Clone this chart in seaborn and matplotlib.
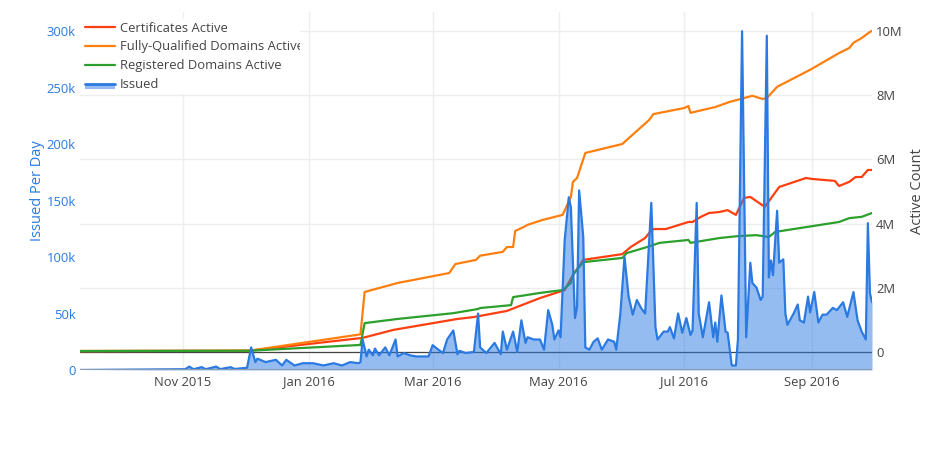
import pandas as pd
import numpy as np
import matplotlib
matplotlib.use("Agg")
import matplotlib.pyplot as plt
import matplotlib.dates as mdates
from matplotlib.lines import Line2D
from matplotlib.patches import Rectangle
from matplotlib.legend_handler import HandlerBase
from matplotlib.transforms import Bbox
import seaborn as sns

# === Data ===
issued_dates = [
    "2015-09-12", "2015-10-06", "2015-11-02", "2015-11-04", "2015-11-06", "2015-11-10", "2015-11-12",
    "2015-11-17", "2015-11-19", "2015-11-24", "2015-11-26", "2015-12-02", "2015-12-04", "2015-12-06",
    "2015-12-07", "2015-12-11", "2015-12-16", "2015-12-19", "2015-12-21", "2015-12-25", "2015-12-29",
    "2016-01-03", "2016-01-08", "2016-01-13", "2016-01-17", "2016-01-21", "2016-01-25", "2016-01-26",
    "2016-01-27", "2016-01-29", "2016-01-30", "2016-02-01", "2016-02-02", "2016-02-04", "2016-02-07",
    "2016-02-09", "2016-02-12", "2016-02-13", "2016-02-16", "2016-02-19", "2016-02-22", "2016-02-25",
    "2016-02-28", "2016-03-01", "2016-03-03", "2016-03-06", "2016-03-08", "2016-03-11", "2016-03-13",
    "2016-03-14", "2016-03-17", "2016-03-21", "2016-03-23", "2016-03-24", "2016-03-27", "2016-03-31",
    "2016-04-03", "2016-04-04", "2016-04-06", "2016-04-09", "2016-04-11", "2016-04-13", "2016-04-15",
    "2016-04-16", "2016-04-19", "2016-04-22", "2016-04-24", "2016-04-26", "2016-04-28", "2016-04-29",
    "2016-05-01", "2016-05-02", "2016-05-04", "2016-05-06", "2016-05-07", "2016-05-09", "2016-05-10",
    "2016-05-11", "2016-05-13", "2016-05-14", "2016-05-16", "2016-05-18", "2016-05-20", "2016-05-22",
    "2016-05-25", "2016-05-28", "2016-05-29", "2016-05-31", "2016-06-02", "2016-06-04", "2016-06-06",
    "2016-06-08", "2016-06-10", "2016-06-12", "2016-06-15", "2016-06-17", "2016-06-18", "2016-06-21",
    "2016-06-23", "2016-06-24", "2016-06-26", "2016-06-28", "2016-06-30", "2016-07-02", "2016-07-04",
    "2016-07-05", "2016-07-07", "2016-07-08", "2016-07-10", "2016-07-13", "2016-07-15", "2016-07-16",
    "2016-07-17", "2016-07-19", "2016-07-21", "2016-07-22", "2016-07-24", "2016-07-26", "2016-07-27",
    "2016-07-29", "2016-07-31", "2016-08-02", "2016-08-03", "2016-08-05", "2016-08-07", "2016-08-08",
    "2016-08-10", "2016-08-11", "2016-08-12", "2016-08-13", "2016-08-15", "2016-08-16", "2016-08-18",
    "2016-08-19", "2016-08-20", "2016-08-23", "2016-08-25", "2016-08-26", "2016-08-28", "2016-08-30",
    "2016-08-31", "2016-09-02", "2016-09-04", "2016-09-06", "2016-09-08", "2016-09-11", "2016-09-13",
    "2016-09-16", "2016-09-18", "2016-09-21", "2016-09-23", "2016-09-25", "2016-09-27", "2016-09-28",
    "2016-09-29", "2016-09-30",
]
issued_values = [
    0, 300, 700, 3000, 700, 2500, 700,
    3000, 800, 2500, 900, 2000, 20000, 7000,
    10000, 7000, 9000, 4000, 9000, 4000, 6000,
    6000, 4000, 6000, 4000, 7000, 6000, 7000,
    27000, 12000, 18000, 13000, 19000, 13000, 20000,
    13000, 27000, 12000, 15000, 13000, 12000, 12000,
    12000, 22000, 19000, 15000, 27000, 35000, 14000,
    17000, 15000, 16000, 50000, 20000, 15000, 24000,
    14000, 34000, 18000, 34000, 16000, 44000, 24000,
    29000, 27000, 27000, 18000, 53000, 40000, 27000,
    35000, 29000, 115000, 153000, 144000, 46000, 56000,
    159000, 118000, 20000, 18000, 25000, 28000, 18000,
    27000, 25000, 18000, 50000, 100000, 65000, 49000,
    62000, 55000, 50000, 148000, 38000, 27000, 34000,
    34000, 38000, 28000, 50000, 33000, 46000, 31000,
    35000, 148000, 50000, 29000, 60000, 29000, 42000,
    25000, 66000, 34000, 33000, 4000, 4000, 27000,
    300000, 29000, 95000, 77000, 73000, 62000, 65000,
    296000, 82000, 97000, 84000, 141000, 95000, 98000,
    50000, 40000, 50000, 58000, 44000, 42000, 65000,
    51000, 69000, 42000, 49000, 49000, 55000, 53000,
    60000, 47000, 69000, 44000, 34000, 27000, 130000,
    68000, 60000,
]

cert_dates = [
    "2015-09-12", "2015-12-03", "2016-01-27", "2016-02-11", "2016-03-13", "2016-03-21", "2016-04-06",
    "2016-04-22", "2016-05-04", "2016-05-08", "2016-05-13", "2016-06-01", "2016-06-05", "2016-06-12",
    "2016-06-14", "2016-06-16", "2016-06-22", "2016-07-03", "2016-07-05", "2016-07-09", "2016-07-13",
    "2016-07-18", "2016-07-22", "2016-07-26", "2016-07-30", "2016-08-02", "2016-08-07", "2016-08-09",
    "2016-08-16", "2016-08-29", "2016-09-01", "2016-09-12", "2016-09-14", "2016-09-19", "2016-09-22",
    "2016-09-25", "2016-09-28", "2016-09-30",
]
cert_values = [
    0.03, 0.04, 0.44, 0.69, 1.03, 1.09, 1.28,
    1.68, 1.93, 2.40, 2.87, 3.05, 3.27, 3.55,
    3.71, 3.83, 3.83, 4.05, 4.05, 4.21, 4.33,
    4.36, 4.42, 4.27, 4.80, 4.83, 4.61, 4.52,
    5.14, 5.42, 5.39, 5.33, 5.17, 5.30, 5.45,
    5.45, 5.67, 5.67,
]

fqdn_dates = [
    "2015-09-12", "2015-12-03", "2016-01-26", "2016-01-28", "2016-02-13", "2016-03-09", "2016-03-12",
    "2016-03-22", "2016-03-24", "2016-04-04", "2016-04-06", "2016-04-09", "2016-04-10", "2016-04-14",
    "2016-04-16", "2016-04-23", "2016-05-03", "2016-05-07", "2016-05-08", "2016-05-10", "2016-05-14",
    "2016-06-01", "2016-06-03", "2016-06-14", "2016-06-16", "2016-07-01", "2016-07-03", "2016-07-04",
    "2016-07-16", "2016-07-23", "2016-08-03", "2016-08-08", "2016-08-10", "2016-08-15", "2016-08-31",
    "2016-09-14", "2016-09-19", "2016-09-21", "2016-09-25", "2016-09-29", "2016-09-30",
]
fqdn_values = [
    0.03, 0.04, 0.55, 1.87, 2.15, 2.46, 2.74,
    2.87, 3.00, 3.12, 3.27, 3.27, 3.77, 3.89,
    3.96, 4.11, 4.27, 4.83, 5.30, 5.42, 6.20,
    6.48, 6.60, 7.23, 7.41, 7.60, 7.66, 7.45,
    7.63, 7.79, 7.98, 7.88, 7.91, 8.26, 8.79,
    9.31, 9.47, 9.63, 9.78, 9.97, 10.0,
]

reg_dates = [
    "2015-09-12", "2015-12-03", "2016-01-26", "2016-01-28", "2016-02-13", "2016-03-11", "2016-03-23",
    "2016-03-24", "2016-04-08", "2016-04-09", "2016-04-22", "2016-05-03", "2016-05-07", "2016-05-08",
    "2016-05-13", "2016-06-01", "2016-06-03", "2016-06-13", "2016-06-19", "2016-07-03", "2016-07-04",
    "2016-07-18", "2016-07-27", "2016-08-05", "2016-08-11", "2016-08-14", "2016-09-14", "2016-09-19",
    "2016-09-25", "2016-09-30",
]
reg_values = [
    0.03, 0.04, 0.22, 0.90, 1.03, 1.21, 1.34,
    1.37, 1.46, 1.71, 1.84, 1.93, 2.15, 2.40,
    2.80, 2.93, 3.08, 3.27, 3.40, 3.49, 3.40,
    3.55, 3.61, 3.64, 3.58, 3.74, 4.05, 4.17,
    4.21, 4.33,
]

# === Colours ===
BLUE = "#2a7ae2"
RED = "#ff3f0f"
ORANGE = "#ff7f0e"
GREEN = "#2ca02c"
GREY = "#444444"
FS = 9.4

sns.set_style("white")
plt.rcParams["font.family"] = ["Open Sans", "DejaVu Sans"]

issued = pd.DataFrame({"date": pd.to_datetime(issued_dates), "value": issued_values})
certs = pd.DataFrame({"date": pd.to_datetime(cert_dates), "value": np.array(cert_values) * 1e6})
fqdn = pd.DataFrame({"date": pd.to_datetime(fqdn_dates), "value": np.array(fqdn_values) * 1e6})
regd = pd.DataFrame({"date": pd.to_datetime(reg_dates), "value": np.array(reg_values) * 1e6})

fig = plt.figure(figsize=(9.52, 4.5), dpi=100)
ax = fig.add_axes([80 / 952, 80 / 450, 792 / 952, 358 / 450])   # active counts (right side)
ax2 = ax.twinx()                                                 # issued per day (left side, on top)

# active count lines
sns.lineplot(data=certs, x="date", y="value", ax=ax, color=RED, lw=1.6, estimator=None)
sns.lineplot(data=fqdn, x="date", y="value", ax=ax, color=ORANGE, lw=1.6, estimator=None)
sns.lineplot(data=regd, x="date", y="value", ax=ax, color=GREEN, lw=1.6, estimator=None)
ax.axhline(0, color=GREY, lw=0.9, zorder=1)

# issued area
sns.lineplot(data=issued, x="date", y="value", ax=ax2, color=BLUE, lw=1.6, estimator=None)
ax2.fill_between(issued["date"], issued["value"], 0, color=BLUE, alpha=0.5, lw=0)
ax2.axhline(0, color="#8a9bb0", lw=1.5, zorder=3)

# axes ranges & ticks
xmin, xmax = pd.Timestamp("2015-09-12"), pd.Timestamp("2016-09-30")
ax.set_xlim(xmin, xmax)
ax.set_ylim(-0.56e6, 10.59e6)
ax2.set_ylim(0, 317000)

ax.xaxis.set_major_locator(mdates.MonthLocator(bymonth=[1, 3, 5, 7, 9, 11]))
ax.xaxis.set_major_formatter(mdates.DateFormatter("%b %Y"))

ax.yaxis.tick_right()
ax.yaxis.set_label_position("right")
ax2.yaxis.tick_left()
ax2.yaxis.set_label_position("left")

ax.set_yticks([0, 2e6, 4e6, 6e6, 8e6, 10e6])
ax.set_yticklabels(["0", "2M", "4M", "6M", "8M", "10M"])
ax2.set_yticks([0, 50000, 100000, 150000, 200000, 250000, 300000])
ax2.set_yticklabels(["0", "50k", "100k", "150k", "200k", "250k", "300k"])

ax.tick_params(axis="x", length=0, pad=4, labelsize=FS, labelcolor=GREY)
ax.tick_params(axis="y", length=0, pad=3, labelsize=FS, labelcolor=GREY)
ax2.tick_params(axis="y", length=0, pad=3, labelsize=FS, labelcolor=BLUE)

ax.grid(True, color="#eeeeee", lw=1)
ax2.grid(False)
for a in (ax, ax2):
    for s in a.spines.values():
        s.set_visible(False)

ax.set_xlabel("")
ax.set_ylabel("Active Count", fontsize=10.5, color=GREY, labelpad=5)
ax2.set_ylabel("Issued Per Day", fontsize=10.5, color=BLUE, labelpad=1)


# === Legend ===
class IssuedHandler(HandlerBase):
    def create_artists(self, legend, orig_handle, xdescent, ydescent, width, height, fontsize, trans):
        yc = -ydescent + height / 2
        rect = Rectangle((-xdescent, yc - height * 0.6), width, height * 0.6,
                         facecolor=BLUE, alpha=0.5, lw=0, transform=trans)
        line = Line2D([-xdescent, -xdescent + width], [yc, yc], color=BLUE, lw=2, transform=trans)
        return [rect, line]


handles = [
    Line2D([], [], color=RED, lw=1.6),
    Line2D([], [], color=ORANGE, lw=1.6),
    Line2D([], [], color=GREEN, lw=1.6),
    Rectangle((0, 0), 1, 1),
]
labels = ["Certificates Active", "Fully-Qualified Domains Active", "Registered Domains Active", "Issued"]
leg = ax2.legend(handles, labels, handler_map={Rectangle: IssuedHandler()},
                 loc="upper left", bbox_to_anchor=(82 / 952, 1 - 19 / 450),
                 bbox_transform=fig.transFigure, frameon=True, fancybox=False,
                 fontsize=FS, handlelength=2.3, handletextpad=0.4, labelspacing=0.45,
                 borderpad=0.2, borderaxespad=0)
leg.get_frame().set_facecolor("white")
leg.get_frame().set_edgecolor("none")
leg.get_frame().set_alpha(1)
clip = Bbox.from_extents(0, 0, 300, 450)
leg.get_frame().set_clip_box(clip)
leg.get_frame().set_clip_on(True)
for t in leg.get_texts():
    t.set_color(GREY)
    t.set_clip_box(clip)
    t.set_clip_on(True)

fig.savefig("out.png", dpi=100)
